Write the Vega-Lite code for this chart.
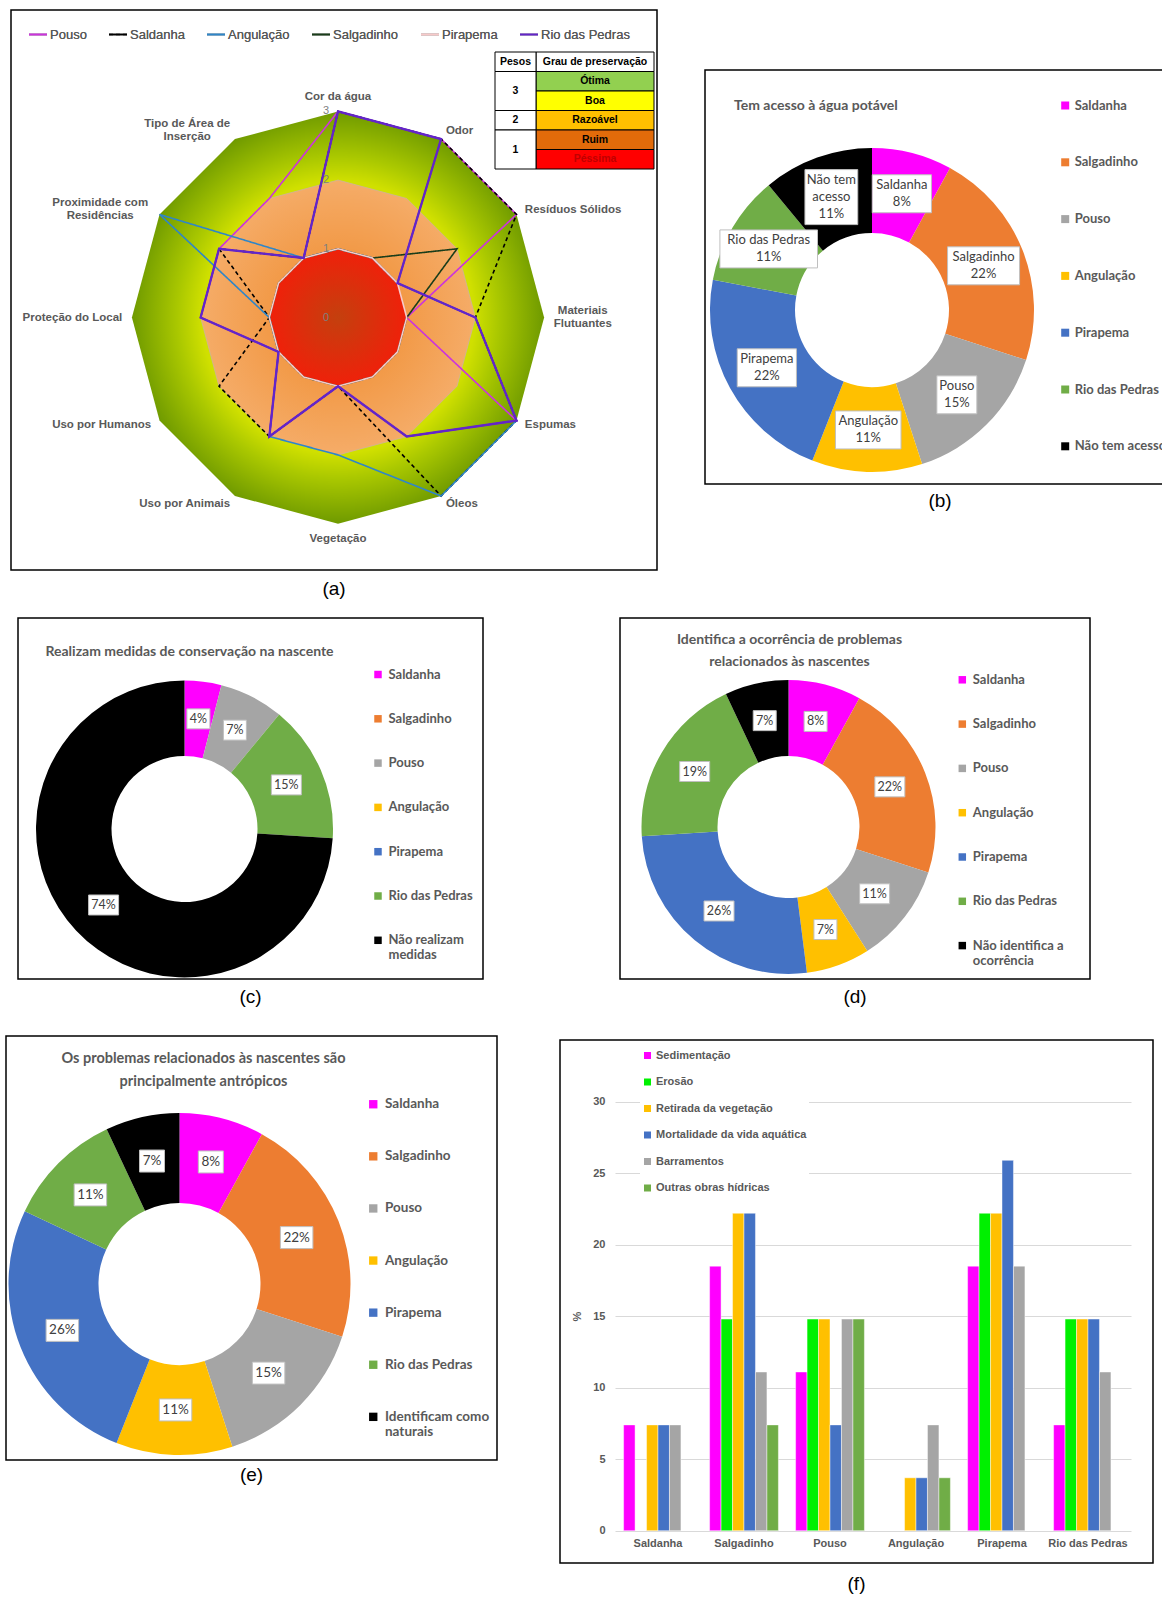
{
"$schema": "https://vega.github.io/schema/vega-lite/v6.json",
"padding": 0,
"background": "white",
"config": {"view": {"stroke": "black", "strokeWidth": 1.5}, "title": {"font": "Liberation Sans", "fontSize": 19, "fontWeight": "normal", "color": "black"}, "text": {"font": "Liberation Sans"}},
"datasets": {
"empty": [],
"radar": [
{"s":"Pouso","k":0,"v":3},{"s":"Pouso","k":1,"v":3},{"s":"Pouso","k":2,"v":3},{"s":"Pouso","k":3,"v":1},{"s":"Pouso","k":4,"v":3},{"s":"Pouso","k":5,"v":2},{"s":"Pouso","k":6,"v":1},{"s":"Pouso","k":7,"v":2},{"s":"Pouso","k":8,"v":1},{"s":"Pouso","k":9,"v":2},{"s":"Pouso","k":10,"v":2},{"s":"Pouso","k":11,"v":2},
{"s":"Saldanha","k":0,"v":3},{"s":"Saldanha","k":1,"v":3},{"s":"Saldanha","k":2,"v":3},{"s":"Saldanha","k":3,"v":2},{"s":"Saldanha","k":4,"v":3},{"s":"Saldanha","k":5,"v":3},{"s":"Saldanha","k":6,"v":1},{"s":"Saldanha","k":7,"v":2},{"s":"Saldanha","k":8,"v":2},{"s":"Saldanha","k":9,"v":1},{"s":"Saldanha","k":10,"v":2},{"s":"Saldanha","k":11,"v":1},
{"s":"Angulação","k":0,"v":1},{"s":"Angulação","k":1,"v":1},{"s":"Angulação","k":2,"v":1},{"s":"Angulação","k":3,"v":2},{"s":"Angulação","k":4,"v":3},{"s":"Angulação","k":5,"v":3},{"s":"Angulação","k":6,"v":2},{"s":"Angulação","k":7,"v":2},{"s":"Angulação","k":8,"v":1},{"s":"Angulação","k":9,"v":1},{"s":"Angulação","k":10,"v":3},{"s":"Angulação","k":11,"v":1},
{"s":"Salgadinho","k":0,"v":1},{"s":"Salgadinho","k":1,"v":1},{"s":"Salgadinho","k":2,"v":2},{"s":"Salgadinho","k":3,"v":1},{"s":"Salgadinho","k":4,"v":1},{"s":"Salgadinho","k":5,"v":1},{"s":"Salgadinho","k":6,"v":1},{"s":"Salgadinho","k":7,"v":1},{"s":"Salgadinho","k":8,"v":1},{"s":"Salgadinho","k":9,"v":1},{"s":"Salgadinho","k":10,"v":1},{"s":"Salgadinho","k":11,"v":1},
{"s":"Pirapema","k":0,"v":1},{"s":"Pirapema","k":1,"v":1},{"s":"Pirapema","k":2,"v":1},{"s":"Pirapema","k":3,"v":1},{"s":"Pirapema","k":4,"v":1},{"s":"Pirapema","k":5,"v":1},{"s":"Pirapema","k":6,"v":1},{"s":"Pirapema","k":7,"v":1},{"s":"Pirapema","k":8,"v":1},{"s":"Pirapema","k":9,"v":1},{"s":"Pirapema","k":10,"v":1},{"s":"Pirapema","k":11,"v":1},
{"s":"Rio das Pedras","k":0,"v":3},{"s":"Rio das Pedras","k":1,"v":3},{"s":"Rio das Pedras","k":2,"v":1},{"s":"Rio das Pedras","k":3,"v":2},{"s":"Rio das Pedras","k":4,"v":3},{"s":"Rio das Pedras","k":5,"v":2},{"s":"Rio das Pedras","k":6,"v":1},{"s":"Rio das Pedras","k":7,"v":2},{"s":"Rio das Pedras","k":8,"v":1},{"s":"Rio das Pedras","k":9,"v":2},{"s":"Rio das Pedras","k":10,"v":2},{"s":"Rio das Pedras","k":11,"v":1}
],
"grid": [
{"lvl":1,"k":0},{"lvl":1,"k":1},{"lvl":1,"k":2},{"lvl":1,"k":3},{"lvl":1,"k":4},{"lvl":1,"k":5},{"lvl":1,"k":6},{"lvl":1,"k":7},{"lvl":1,"k":8},{"lvl":1,"k":9},{"lvl":1,"k":10},{"lvl":1,"k":11},
{"lvl":2,"k":0},{"lvl":2,"k":1},{"lvl":2,"k":2},{"lvl":2,"k":3},{"lvl":2,"k":4},{"lvl":2,"k":5},{"lvl":2,"k":6},{"lvl":2,"k":7},{"lvl":2,"k":8},{"lvl":2,"k":9},{"lvl":2,"k":10},{"lvl":2,"k":11},
{"lvl":3,"k":0},{"lvl":3,"k":1},{"lvl":3,"k":2},{"lvl":3,"k":3},{"lvl":3,"k":4},{"lvl":3,"k":5},{"lvl":3,"k":6},{"lvl":3,"k":7},{"lvl":3,"k":8},{"lvl":3,"k":9},{"lvl":3,"k":10},{"lvl":3,"k":11}
],
"axes": [
{"k":0,"name":"Cor da água"},{"k":1,"name":"Odor"},{"k":2,"name":"Resíduos Sólidos"},{"k":3,"name":"Materiais\nFlutuantes"},{"k":4,"name":"Espumas"},{"k":5,"name":"Óleos"},{"k":6,"name":"Vegetação"},{"k":7,"name":"Uso por Animais"},{"k":8,"name":"Uso por Humanos"},{"k":9,"name":"Proteção do Local"},{"k":10,"name":"Proximidade com\nResidências"},{"k":11,"name":"Tipo de Área de\nInserção"}
],
"ticks": [{"t":0},{"t":1},{"t":2},{"t":3}],
"table": [
{"i":0,"peso":"Pesos","grau":"Grau de preservação"},{"i":1,"peso":"3","grau":"Ótima"},{"i":2,"peso":"3","grau":"Boa"},{"i":3,"peso":"2","grau":"Razoável"},{"i":4,"peso":"1","grau":"Ruim"},{"i":5,"peso":"1","grau":"Péssima"}
],
"b": [
{"i":1,"cat":"Saldanha","v":8,"lab":"Saldanha\n8%"},{"i":2,"cat":"Salgadinho","v":22,"lab":"Salgadinho\n22%"},{"i":3,"cat":"Pouso","v":15,"lab":"Pouso\n15%"},{"i":4,"cat":"Angulação","v":11,"lab":"Angulação\n11%"},{"i":5,"cat":"Pirapema","v":22,"lab":"Pirapema\n22%"},{"i":6,"cat":"Rio das Pedras","v":11,"lab":"Rio das Pedras\n11%"},{"i":7,"cat":"Não tem acesso","v":11,"lab":"Não tem\nacesso\n11%"}
],
"c": [
{"i":1,"cat":"Saldanha","v":4,"lab":"4%"},{"i":2,"cat":"Salgadinho","v":0,"lab":"0%"},{"i":3,"cat":"Pouso","v":7,"lab":"7%"},{"i":4,"cat":"Angulação","v":0,"lab":"0%"},{"i":5,"cat":"Pirapema","v":0,"lab":"0%"},{"i":6,"cat":"Rio das Pedras","v":15,"lab":"15%"},{"i":7,"cat":"Não realizam medidas","v":74,"lab":"74%"}
],
"d": [
{"i":1,"cat":"Saldanha","v":8,"lab":"8%"},{"i":2,"cat":"Salgadinho","v":22,"lab":"22%"},{"i":3,"cat":"Pouso","v":11,"lab":"11%"},{"i":4,"cat":"Angulação","v":7,"lab":"7%"},{"i":5,"cat":"Pirapema","v":26,"lab":"26%"},{"i":6,"cat":"Rio das Pedras","v":19,"lab":"19%"},{"i":7,"cat":"Não identifica a ocorrência","v":7,"lab":"7%"}
],
"e": [
{"i":1,"cat":"Saldanha","v":8,"lab":"8%"},{"i":2,"cat":"Salgadinho","v":22,"lab":"22%"},{"i":3,"cat":"Pouso","v":15,"lab":"15%"},{"i":4,"cat":"Angulação","v":11,"lab":"11%"},{"i":5,"cat":"Pirapema","v":26,"lab":"26%"},{"i":6,"cat":"Rio das Pedras","v":11,"lab":"11%"},{"i":7,"cat":"Identificam como naturais","v":7,"lab":"7%"}
],
"f": [
{"loc":"Saldanha","tipo":"Sedimentação","v":7.4},{"loc":"Saldanha","tipo":"Retirada da vegetação","v":7.4},{"loc":"Saldanha","tipo":"Mortalidade da vida aquática","v":7.4},{"loc":"Saldanha","tipo":"Barramentos","v":7.4},
{"loc":"Salgadinho","tipo":"Sedimentação","v":18.5},{"loc":"Salgadinho","tipo":"Erosão","v":14.8},{"loc":"Salgadinho","tipo":"Retirada da vegetação","v":22.2},{"loc":"Salgadinho","tipo":"Mortalidade da vida aquática","v":22.2},{"loc":"Salgadinho","tipo":"Barramentos","v":11.1},{"loc":"Salgadinho","tipo":"Outras obras hídricas","v":7.4},
{"loc":"Pouso","tipo":"Sedimentação","v":11.1},{"loc":"Pouso","tipo":"Erosão","v":14.8},{"loc":"Pouso","tipo":"Retirada da vegetação","v":14.8},{"loc":"Pouso","tipo":"Mortalidade da vida aquática","v":7.4},{"loc":"Pouso","tipo":"Barramentos","v":14.8},{"loc":"Pouso","tipo":"Outras obras hídricas","v":14.8},
{"loc":"Angulação","tipo":"Retirada da vegetação","v":3.7},{"loc":"Angulação","tipo":"Mortalidade da vida aquática","v":3.7},{"loc":"Angulação","tipo":"Barramentos","v":7.4},{"loc":"Angulação","tipo":"Outras obras hídricas","v":3.7},
{"loc":"Pirapema","tipo":"Sedimentação","v":18.5},{"loc":"Pirapema","tipo":"Erosão","v":22.2},{"loc":"Pirapema","tipo":"Retirada da vegetação","v":22.2},{"loc":"Pirapema","tipo":"Mortalidade da vida aquática","v":25.9},{"loc":"Pirapema","tipo":"Barramentos","v":18.5},
{"loc":"Rio das Pedras","tipo":"Sedimentação","v":7.4},{"loc":"Rio das Pedras","tipo":"Erosão","v":14.8},{"loc":"Rio das Pedras","tipo":"Retirada da vegetação","v":14.8},{"loc":"Rio das Pedras","tipo":"Mortalidade da vida aquática","v":14.8},{"loc":"Rio das Pedras","tipo":"Barramentos","v":11.1}
]
},
"spacing": 0,
"bounds": "full",
"resolve": {"scale": {"x": "independent", "y": "independent", "color": "independent", "strokeDash": "independent", "theta": "independent"}, "legend": {"color": "independent", "strokeDash": "independent"}},
"vconcat": [
{"hconcat": [
 {"width": 9.25, "height": 1, "view": {"stroke": null}, "data": {"name": "empty"}, "mark": "point", "encoding": {}},
 {"vconcat": [
  {"width": 1, "height": 10, "view": {"stroke": null}, "data": {"name": "empty"}, "mark": "point", "encoding": {}},
  {"width": 646, "height": 560,
   "title": {"text": "(a)", "orient": "bottom", "offset": 10.15, "anchor": "middle"},
   "resolve": {"scale": {"x": "independent", "y": "independent", "color": "independent"}},
   "layer": [
    {"layer": [
     {"data": {"name": "grid"}, "transform": [{"filter": "datum.lvl == 3"}, {"calculate": "datum.lvl*sin(datum.k*PI/6)", "as": "x"}, {"calculate": "datum.lvl*cos(datum.k*PI/6)", "as": "y"}],
      "mark": {"type": "line", "interpolate": "linear-closed", "stroke": "transparent", "fill": {"gradient": "radial", "x1": 0.5, "y1": 0.5, "r1": 0, "x2": 0.5, "y2": 0.5, "r2": 0.5, "stops": [{"offset": 0, "color": "#dfe600"}, {"offset": 0.66, "color": "#d0e000"}, {"offset": 0.78, "color": "#aac800"}, {"offset": 1, "color": "#6f9a00"}]}},
      "encoding": {"x": {"field": "x", "type": "quantitative", "scale": {"domain": [-4.76, 4.643], "nice": false, "zero": false}, "axis": null}, "y": {"field": "y", "type": "quantitative", "scale": {"domain": [-3.675, 4.476], "nice": false, "zero": false}, "axis": null}, "order": {"field": "k", "type": "quantitative"}}},
     {"data": {"name": "grid"}, "transform": [{"filter": "datum.lvl == 2"}, {"calculate": "datum.lvl*sin(datum.k*PI/6)", "as": "x"}, {"calculate": "datum.lvl*cos(datum.k*PI/6)", "as": "y"}],
      "mark": {"type": "line", "interpolate": "linear-closed", "stroke": "#cdb49b", "strokeWidth": 0.8, "fill": {"gradient": "radial", "x1": 0.5, "y1": 0.5, "r1": 0, "x2": 0.5, "y2": 0.5, "r2": 0.5, "stops": [{"offset": 0, "color": "#f29a48"}, {"offset": 0.5, "color": "#f29a48"}, {"offset": 1, "color": "#f5ac68"}]}},
      "encoding": {"x": {"field": "x", "type": "quantitative", "scale": {"domain": [-4.76, 4.643], "nice": false, "zero": false}, "axis": null}, "y": {"field": "y", "type": "quantitative", "scale": {"domain": [-3.675, 4.476], "nice": false, "zero": false}, "axis": null}, "order": {"field": "k", "type": "quantitative"}}},
     {"data": {"name": "grid"}, "transform": [{"filter": "datum.lvl == 1"}, {"calculate": "datum.lvl*sin(datum.k*PI/6)", "as": "x"}, {"calculate": "datum.lvl*cos(datum.k*PI/6)", "as": "y"}],
      "mark": {"type": "line", "interpolate": "linear-closed", "stroke": "transparent", "fill": {"gradient": "radial", "x1": 0.5, "y1": 0.5, "r1": 0, "x2": 0.5, "y2": 0.5, "r2": 0.5, "stops": [{"offset": 0, "color": "#c4400e"}, {"offset": 1, "color": "#f0200a"}]}},
      "encoding": {"x": {"field": "x", "type": "quantitative", "scale": {"domain": [-4.76, 4.643], "nice": false, "zero": false}, "axis": null}, "y": {"field": "y", "type": "quantitative", "scale": {"domain": [-3.675, 4.476], "nice": false, "zero": false}, "axis": null}, "order": {"field": "k", "type": "quantitative"}}},
     {"data": {"name": "radar"}, "transform": [{"calculate": "datum.v*sin(datum.k*PI/6)", "as": "x"}, {"calculate": "datum.v*cos(datum.k*PI/6)", "as": "y"}],
      "mark": {"type": "line", "interpolate": "linear-closed", "strokeWidth": 1.6},
      "encoding": {"x": {"field": "x", "type": "quantitative", "scale": {"domain": [-4.76, 4.643], "nice": false, "zero": false}, "axis": null}, "y": {"field": "y", "type": "quantitative", "scale": {"domain": [-3.675, 4.476], "nice": false, "zero": false}, "axis": null}, "order": {"field": "k", "type": "quantitative"},
       "color": {"field": "s", "type": "nominal", "scale": {"domain": ["Pouso","Saldanha","Angulação","Salgadinho","Pirapema","Rio das Pedras"], "range": ["#cc33dd","#000000","#2f86c8","#1a3d1a","#f7c9c9","#6325c8"]},
        "legend": {"orient": "none", "legendX": 17, "legendY": 14.5, "direction": "horizontal", "title": null, "symbolType": "stroke", "symbolSize": 324, "symbolStrokeWidth": 2, "labelFont": "Liberation Sans", "labelFontSize": 13, "labelColor": "#595959", "columnPadding": 18, "labelOffset": 2, "padding": 0}},
       "strokeDash": {"field": "s", "type": "nominal", "scale": {"domain": ["Pouso","Saldanha","Angulação","Salgadinho","Pirapema","Rio das Pedras"], "range": [[1,0],[4,3],[1,0],[1,0],[1,0],[1,0]]},
        "legend": {"orient": "none", "legendX": 17, "legendY": 14.5, "direction": "horizontal", "title": null, "symbolType": "stroke", "symbolSize": 324, "symbolStrokeWidth": 2, "labelFont": "Liberation Sans", "labelFontSize": 13, "labelColor": "#595959", "columnPadding": 18, "labelOffset": 2, "padding": 0}}}},
     {"data": {"name": "radar"}, "transform": [{"filter": "datum.s == 'Rio das Pedras'"}, {"calculate": "datum.v*sin(datum.k*PI/6)", "as": "x"}, {"calculate": "datum.v*cos(datum.k*PI/6)", "as": "y"}],
      "mark": {"type": "line", "interpolate": "linear-closed", "strokeWidth": 2.3, "stroke": "#6325c8"},
      "encoding": {"x": {"field": "x", "type": "quantitative", "scale": {"domain": [-4.76, 4.643], "nice": false, "zero": false}, "axis": null}, "y": {"field": "y", "type": "quantitative", "scale": {"domain": [-3.675, 4.476], "nice": false, "zero": false}, "axis": null}, "order": {"field": "k", "type": "quantitative"}}},
     {"data": {"name": "ticks"},
      "mark": {"type": "text", "align": "right", "baseline": "middle", "dx": -9, "fontSize": 11, "fill": "#7f7f7f"},
      "encoding": {"x": {"datum": 0, "type": "quantitative", "scale": {"domain": [-4.76, 4.643], "nice": false, "zero": false}, "axis": null}, "y": {"field": "t", "type": "quantitative", "scale": {"domain": [-3.675, 4.476], "nice": false, "zero": false}, "axis": null}, "text": {"field": "t", "type": "quantitative"}}},
     {"data": {"name": "axes"}, "transform": [{"filter": "datum.k == 0"}, {"calculate": "3.14*sin(datum.k*PI/6)", "as": "x"}, {"calculate": "3.14*cos(datum.k*PI/6)", "as": "y"}],
      "mark": {"type": "text", "align": "center", "baseline": "bottom", "fontSize": 11.5, "fontWeight": "bold", "fill": "#595959", "lineBreak": "\n", "lineHeight": 13},
      "encoding": {"x": {"field": "x", "type": "quantitative", "scale": {"domain": [-4.76, 4.643], "nice": false, "zero": false}, "axis": null}, "y": {"field": "y", "type": "quantitative", "scale": {"domain": [-3.675, 4.476], "nice": false, "zero": false}, "axis": null}, "text": {"field": "name"}}},
     {"data": {"name": "axes"}, "transform": [{"filter": "datum.k >= 1 && datum.k <= 5 && datum.k != 3"}, {"calculate": "3.14*sin(datum.k*PI/6)", "as": "x"}, {"calculate": "3.14*cos(datum.k*PI/6)", "as": "y"}],
      "mark": {"type": "text", "align": "left", "baseline": "middle", "fontSize": 11.5, "fontWeight": "bold", "fill": "#595959", "lineBreak": "\n", "lineHeight": 13},
      "encoding": {"x": {"field": "x", "type": "quantitative", "scale": {"domain": [-4.76, 4.643], "nice": false, "zero": false}, "axis": null}, "y": {"field": "y", "type": "quantitative", "scale": {"domain": [-3.675, 4.476], "nice": false, "zero": false}, "axis": null}, "text": {"field": "name"}}},
     {"data": {"name": "axes"}, "transform": [{"filter": "datum.k == 3"}, {"calculate": "3.14*sin(datum.k*PI/6)", "as": "x"}, {"calculate": "3.14*cos(datum.k*PI/6)", "as": "y"}],
      "mark": {"type": "text", "align": "center", "baseline": "middle", "dx": 29, "dy": -6.5, "fontSize": 11.5, "fontWeight": "bold", "fill": "#595959", "lineBreak": "\n", "lineHeight": 13},
      "encoding": {"x": {"field": "x", "type": "quantitative", "scale": {"domain": [-4.76, 4.643], "nice": false, "zero": false}, "axis": null}, "y": {"field": "y", "type": "quantitative", "scale": {"domain": [-3.675, 4.476], "nice": false, "zero": false}, "axis": null}, "text": {"field": "name"}}},
     {"data": {"name": "axes"}, "transform": [{"filter": "datum.k == 6"}, {"calculate": "3.14*sin(datum.k*PI/6)", "as": "x"}, {"calculate": "3.14*cos(datum.k*PI/6)", "as": "y"}],
      "mark": {"type": "text", "align": "center", "baseline": "top", "fontSize": 11.5, "fontWeight": "bold", "fill": "#595959", "lineBreak": "\n", "lineHeight": 13},
      "encoding": {"x": {"field": "x", "type": "quantitative", "scale": {"domain": [-4.76, 4.643], "nice": false, "zero": false}, "axis": null}, "y": {"field": "y", "type": "quantitative", "scale": {"domain": [-3.675, 4.476], "nice": false, "zero": false}, "axis": null}, "text": {"field": "name"}}},
     {"data": {"name": "axes"}, "transform": [{"filter": "datum.k >= 7 && datum.k <= 9"}, {"calculate": "3.14*sin(datum.k*PI/6)", "as": "x"}, {"calculate": "3.14*cos(datum.k*PI/6)", "as": "y"}],
      "mark": {"type": "text", "align": "right", "baseline": "middle", "fontSize": 11.5, "fontWeight": "bold", "fill": "#595959", "lineBreak": "\n", "lineHeight": 13},
      "encoding": {"x": {"field": "x", "type": "quantitative", "scale": {"domain": [-4.76, 4.643], "nice": false, "zero": false}, "axis": null}, "y": {"field": "y", "type": "quantitative", "scale": {"domain": [-3.675, 4.476], "nice": false, "zero": false}, "axis": null}, "text": {"field": "name"}}},
     {"data": {"name": "axes"}, "transform": [{"filter": "datum.k == 10"}, {"calculate": "3.14*sin(datum.k*PI/6)", "as": "x"}, {"calculate": "3.14*cos(datum.k*PI/6)", "as": "y"}],
      "mark": {"type": "text", "align": "center", "baseline": "middle", "dx": -51, "dy": -6.5, "fontSize": 11.5, "fontWeight": "bold", "fill": "#595959", "lineBreak": "\n", "lineHeight": 13},
      "encoding": {"x": {"field": "x", "type": "quantitative", "scale": {"domain": [-4.76, 4.643], "nice": false, "zero": false}, "axis": null}, "y": {"field": "y", "type": "quantitative", "scale": {"domain": [-3.675, 4.476], "nice": false, "zero": false}, "axis": null}, "text": {"field": "name"}}},
     {"data": {"name": "axes"}, "transform": [{"filter": "datum.k == 11"}, {"calculate": "3.14*sin(datum.k*PI/6)", "as": "x"}, {"calculate": "3.14*cos(datum.k*PI/6)", "as": "y"}],
      "mark": {"type": "text", "align": "center", "baseline": "middle", "dx": -43, "dy": -6.5, "fontSize": 11.5, "fontWeight": "bold", "fill": "#595959", "lineBreak": "\n", "lineHeight": 13},
      "encoding": {"x": {"field": "x", "type": "quantitative", "scale": {"domain": [-4.76, 4.643], "nice": false, "zero": false}, "axis": null}, "y": {"field": "y", "type": "quantitative", "scale": {"domain": [-3.675, 4.476], "nice": false, "zero": false}, "axis": null}, "text": {"field": "name"}}}
    ]},
    {"layer": [
     {"data": {"name": "table"}, "transform": [{"calculate": "datum.i", "as": "y0"}, {"calculate": "datum.i + 1", "as": "y1"}],
      "mark": {"type": "rect", "stroke": "black", "strokeWidth": 1},
      "encoding": {"x": {"value": 525}, "x2": {"value": 643}, "y": {"field": "y0", "type": "quantitative", "scale": {"domain": [0, 6], "range": [42, 159], "nice": false, "zero": false}, "axis": null}, "y2": {"field": "y1"},
       "color": {"field": "grau", "type": "nominal", "scale": {"domain": ["Grau de preservação","Ótima","Boa","Razoável","Ruim","Péssima"], "range": ["#ffffff","#92d050","#ffff00","#ffc000","#e26b0a","#ff0000"]}, "legend": null}}},
     {"data": {"name": "table"}, "transform": [{"calculate": "datum.i + 0.5", "as": "ym"}],
      "mark": {"type": "text", "fontSize": 10.5, "fontWeight": "bold", "align": "center", "baseline": "middle"},
      "encoding": {"x": {"value": 584}, "y": {"field": "ym", "type": "quantitative", "scale": {"domain": [0, 6], "range": [42, 159], "nice": false, "zero": false}, "axis": null}, "text": {"field": "grau"},
       "color": {"condition": {"test": "datum.grau == 'Péssima'", "value": "#c00000"}, "value": "black"}}},
     {"data": {"name": "table"}, "transform": [{"aggregate": [{"op": "min", "field": "i", "as": "a"}, {"op": "max", "field": "i", "as": "b"}], "groupby": ["peso"]}, {"calculate": "datum.a", "as": "y0"}, {"calculate": "datum.b + 1", "as": "y1"}],
      "mark": {"type": "rect", "fill": "white", "stroke": "black", "strokeWidth": 1},
      "encoding": {"x": {"value": 484}, "x2": {"value": 525}, "y": {"field": "y0", "type": "quantitative", "scale": {"domain": [0, 6], "range": [42, 159], "nice": false, "zero": false}, "axis": null}, "y2": {"field": "y1"}}},
     {"data": {"name": "table"}, "transform": [{"aggregate": [{"op": "min", "field": "i", "as": "a"}, {"op": "max", "field": "i", "as": "b"}], "groupby": ["peso"]}, {"calculate": "(datum.a + datum.b + 1)/2", "as": "ym"}],
      "mark": {"type": "text", "fontSize": 10.5, "fontWeight": "bold", "align": "center", "baseline": "middle", "fill": "black"},
      "encoding": {"x": {"value": 504.5}, "y": {"field": "ym", "type": "quantitative", "scale": {"domain": [0, 6], "range": [42, 159], "nice": false, "zero": false}, "axis": null}, "text": {"field": "peso"}}}
    ]}
   ]}
 ], "spacing": 0, "bounds": "flush", "resolve": {"scale": {"x": "independent", "y": "independent", "color": "independent", "strokeDash": "independent", "theta": "independent"}, "legend": {"color": "independent", "strokeDash": "independent"}}},
 {"width": 45.5, "height": 1, "view": {"stroke": null}, "data": {"name": "empty"}, "mark": "point", "encoding": {}},
 {"vconcat": [
  {"width": 1, "height": 69.5, "view": {"stroke": null}, "data": {"name": "empty"}, "mark": "point", "encoding": {}},
  {"width": 470, "height": 414,
   "title": {"text": "Tem acesso à água potável", "orient": "top", "anchor": "start", "frame": "group", "dx": 29, "offset": -42.5, "font": "Lato", "fontSize": 14, "fontWeight": "bold", "color": "#595959"},
   "data": {"name": "b"},
   "transform": [
    {"joinaggregate": [{"op": "sum", "field": "v", "as": "tot"}]},
    {"window": [{"op": "sum", "field": "v", "as": "cum"}], "sort": [{"field": "i", "order": "ascending"}], "frame": [null, 0]},
    {"calculate": "2*PI*(datum.cum - datum.v/2)/datum.tot", "as": "ang"},
    {"calculate": "120*sin(datum.ang)", "as": "lx"},
    {"calculate": "120*cos(datum.ang)", "as": "ly"},
    {"calculate": "split(datum.lab, '\\n')", "as": "ln"},
    {"calculate": "datum.ly + 8.5*(length(datum.ln) - 1)", "as": "ty"},
    {"calculate": "6.4*length(datum.ln[0]) + 8", "as": "bw"},
    {"calculate": "17*length(datum.ln) + 4", "as": "bh"},
    {"calculate": "datum.lx - datum.bw/2", "as": "bx1"},
    {"calculate": "datum.lx + datum.bw/2", "as": "bx2"},
    {"calculate": "datum.ly - datum.bh/2", "as": "by1"},
    {"calculate": "datum.ly + datum.bh/2", "as": "by2"}
   ],
   "layer": [
    {"mark": {"type": "arc", "radius": 162, "radius2": 77},
     "encoding": {"theta": {"field": "v", "type": "quantitative", "stack": true}, "order": {"field": "i", "type": "quantitative"},
      "x": {"datum": 0, "type": "quantitative", "scale": {"domain": [-167, 303], "nice": false, "zero": false}, "axis": null},
      "y": {"datum": 0, "type": "quantitative", "scale": {"domain": [-174, 240], "nice": false, "zero": false}, "axis": null},
      "color": {"field": "cat", "type": "nominal", "scale": {"domain": ["Saldanha","Salgadinho","Pouso","Angulação","Pirapema","Rio das Pedras","Não tem acesso"], "range": ["#ff00ff","#ed7d31","#a5a5a5","#ffc000","#4472c4","#70ad47","#000000"]},
       "legend": {"orient": "none", "legendX": 353.7, "legendY": 29, "title": null, "symbolType": "square", "symbolSize": 64, "symbolStrokeWidth": 0, "labelFont": "Lato", "labelFontWeight": "bold", "labelFontSize": 13, "labelColor": "#595959", "rowPadding": 42.8, "labelOffset": 3, "padding": 0, "labelLimit": 300}}}},
    {"transform": [{"filter": "datum.v > 0"}], "mark": {"type": "rect", "fill": "white", "stroke": "#bfbfbf", "strokeWidth": 1},
     "encoding": {"x": {"field": "bx1", "type": "quantitative", "scale": {"domain": [-167, 303], "nice": false, "zero": false}, "axis": null}, "x2": {"field": "bx2"},
      "y": {"field": "by1", "type": "quantitative", "scale": {"domain": [-174, 240], "nice": false, "zero": false}, "axis": null}, "y2": {"field": "by2"}}},
    {"transform": [{"filter": "datum.v > 0"}], "mark": {"type": "text", "font": "Lato", "fontSize": 13, "fill": "#404040", "lineBreak": "\n", "lineHeight": 17, "align": "center", "baseline": "middle"},
     "encoding": {"x": {"field": "lx", "type": "quantitative", "scale": {"domain": [-167, 303], "nice": false, "zero": false}, "axis": null},
      "y": {"field": "ty", "type": "quantitative", "scale": {"domain": [-174, 240], "nice": false, "zero": false}, "axis": null}, "text": {"field": "lab"}}}
   ]}
 ], "spacing": 0, "bounds": "flush", "title": {"text": "(b)", "orient": "bottom", "offset": 7.25, "anchor": "middle"}, "resolve": {"scale": {"x": "independent", "y": "independent", "color": "independent", "strokeDash": "independent", "theta": "independent"}, "legend": {"color": "independent", "strokeDash": "independent"}}}
], "spacing": 0, "bounds": "full", "resolve": {"scale": {"x": "independent", "y": "independent", "color": "independent", "strokeDash": "independent", "theta": "independent"}, "legend": {"color": "independent", "strokeDash": "independent"}}},
{"width": 1, "height": 17, "view": {"stroke": null}, "data": {"name": "empty"}, "mark": "point", "encoding": {}},
{"hconcat": [
 {"width": 16.75, "height": 1, "view": {"stroke": null}, "data": {"name": "empty"}, "mark": "point", "encoding": {}},
 {"vconcat": [
  {"width": 465, "height": 361,
   "title": {"text": "Realizam medidas de conservação na nascente", "orient": "top", "anchor": "start", "frame": "group", "dx": 27.5, "offset": -40.5, "font": "Lato", "fontSize": 14, "fontWeight": "bold", "color": "#595959"},
   "data": {"name": "c"},
   "transform": [
    {"joinaggregate": [{"op": "sum", "field": "v", "as": "tot"}]},
    {"window": [{"op": "sum", "field": "v", "as": "cum"}], "sort": [{"field": "i", "order": "ascending"}], "frame": [null, 0]},
    {"calculate": "2*PI*(datum.cum - datum.v/2)/datum.tot", "as": "ang"},
    {"calculate": "111*sin(datum.ang)", "as": "lx"},
    {"calculate": "111*cos(datum.ang)", "as": "ly"},
    {"calculate": "split(datum.lab, '\\n')", "as": "ln"},
    {"calculate": "7*length(datum.ln[0]) + 9", "as": "bw"},
    {"calculate": "15*length(datum.ln) + 5", "as": "bh"},
    {"calculate": "datum.lx - datum.bw/2", "as": "bx1"},
    {"calculate": "datum.lx + datum.bw/2", "as": "bx2"},
    {"calculate": "datum.ly - datum.bh/2", "as": "by1"},
    {"calculate": "datum.ly + datum.bh/2", "as": "by2"}
   ],
   "layer": [
    {"mark": {"type": "arc", "radius": 148.5, "radius2": 73},
     "encoding": {"theta": {"field": "v", "type": "quantitative", "stack": true}, "order": {"field": "i", "type": "quantitative"},
      "x": {"datum": 0, "type": "quantitative", "scale": {"domain": [-166.5, 298.5], "nice": false, "zero": false}, "axis": null},
      "y": {"datum": 0, "type": "quantitative", "scale": {"domain": [-150, 211], "nice": false, "zero": false}, "axis": null},
      "color": {"field": "cat", "type": "nominal", "scale": {"domain": ["Saldanha","Salgadinho","Pouso","Angulação","Pirapema","Rio das Pedras","Não realizam medidas"], "range": ["#ff00ff","#ed7d31","#a5a5a5","#ffc000","#4472c4","#70ad47","#000000"]},
       "legend": {"orient": "none", "legendX": 353.5, "legendY": 50, "title": null, "symbolType": "square", "symbolSize": 56, "symbolStrokeWidth": 0, "labelFont": "Lato", "labelFontWeight": "bold", "labelFontSize": 13, "labelColor": "#595959", "rowPadding": 30.3, "labelOffset": 4, "padding": 0, "labelLimit": 300,
        "labelExpr": "datum.label == 'Não realizam medidas' ? ['Não realizam', 'medidas'] : datum.label"}}}},
    {"transform": [{"filter": "datum.v > 0"}], "mark": {"type": "rect", "fill": "white", "stroke": "#bfbfbf", "strokeWidth": 1},
     "encoding": {"x": {"field": "bx1", "type": "quantitative", "scale": {"domain": [-166.5, 298.5], "nice": false, "zero": false}, "axis": null}, "x2": {"field": "bx2"},
      "y": {"field": "by1", "type": "quantitative", "scale": {"domain": [-150, 211], "nice": false, "zero": false}, "axis": null}, "y2": {"field": "by2"}}},
    {"transform": [{"filter": "datum.v > 0"}], "mark": {"type": "text", "font": "Lato", "fontSize": 12.5, "fill": "#404040", "lineBreak": "\n", "lineHeight": 15, "align": "center", "baseline": "middle"},
     "encoding": {"x": {"field": "lx", "type": "quantitative", "scale": {"domain": [-166.5, 298.5], "nice": false, "zero": false}, "axis": null},
      "y": {"field": "ly", "type": "quantitative", "scale": {"domain": [-150, 211], "nice": false, "zero": false}, "axis": null}, "text": {"field": "lab"}}}
   ]}
 ], "spacing": 0, "bounds": "flush", "title": {"text": "(c)", "orient": "bottom", "offset": 8.25, "anchor": "middle"}, "resolve": {"scale": {"x": "independent", "y": "independent", "color": "independent", "strokeDash": "independent", "theta": "independent"}, "legend": {"color": "independent", "strokeDash": "independent"}}},
 {"width": 134.5, "height": 1, "view": {"stroke": null}, "data": {"name": "empty"}, "mark": "point", "encoding": {}},
 {"vconcat": [
  {"width": 470, "height": 361,
   "title": {"text": ["Identifica a ocorrência de problemas", "relacionados às nascentes"], "orient": "top", "anchor": "middle", "frame": "group", "dx": -65.5, "offset": -50.5, "font": "Lato", "fontSize": 14, "fontWeight": "bold", "color": "#595959", "lineHeight": 22},
   "data": {"name": "d"},
   "transform": [
    {"joinaggregate": [{"op": "sum", "field": "v", "as": "tot"}]},
    {"window": [{"op": "sum", "field": "v", "as": "cum"}], "sort": [{"field": "i", "order": "ascending"}], "frame": [null, 0]},
    {"calculate": "2*PI*(datum.cum - datum.v/2)/datum.tot", "as": "ang"},
    {"calculate": "109*sin(datum.ang)", "as": "lx"},
    {"calculate": "109*cos(datum.ang)", "as": "ly"},
    {"calculate": "split(datum.lab, '\\n')", "as": "ln"},
    {"calculate": "7*length(datum.ln[0]) + 9", "as": "bw"},
    {"calculate": "15*length(datum.ln) + 5", "as": "bh"},
    {"calculate": "datum.lx - datum.bw/2", "as": "bx1"},
    {"calculate": "datum.lx + datum.bw/2", "as": "bx2"},
    {"calculate": "datum.ly - datum.bh/2", "as": "by1"},
    {"calculate": "datum.ly + datum.bh/2", "as": "by2"}
   ],
   "layer": [
    {"mark": {"type": "arc", "radius": 147, "radius2": 71},
     "encoding": {"theta": {"field": "v", "type": "quantitative", "stack": true}, "order": {"field": "i", "type": "quantitative"},
      "x": {"datum": 0, "type": "quantitative", "scale": {"domain": [-168.5, 301.5], "nice": false, "zero": false}, "axis": null},
      "y": {"datum": 0, "type": "quantitative", "scale": {"domain": [-152, 209], "nice": false, "zero": false}, "axis": null},
      "color": {"field": "cat", "type": "nominal", "scale": {"domain": ["Saldanha","Salgadinho","Pouso","Angulação","Pirapema","Rio das Pedras","Não identifica a ocorrência"], "range": ["#ff00ff","#ed7d31","#a5a5a5","#ffc000","#4472c4","#70ad47","#000000"]},
       "legend": {"orient": "none", "legendX": 335.8, "legendY": 55.3, "title": null, "symbolType": "square", "symbolSize": 56, "symbolStrokeWidth": 0, "labelFont": "Lato", "labelFontWeight": "bold", "labelFontSize": 13, "labelColor": "#595959", "rowPadding": 30.3, "labelOffset": 4, "padding": 0, "labelLimit": 300,
        "labelExpr": "datum.label == 'Não identifica a ocorrência' ? ['Não identifica a', 'ocorrência'] : datum.label"}}}},
    {"transform": [{"filter": "datum.v > 0"}], "mark": {"type": "rect", "fill": "white", "stroke": "#bfbfbf", "strokeWidth": 1},
     "encoding": {"x": {"field": "bx1", "type": "quantitative", "scale": {"domain": [-168.5, 301.5], "nice": false, "zero": false}, "axis": null}, "x2": {"field": "bx2"},
      "y": {"field": "by1", "type": "quantitative", "scale": {"domain": [-152, 209], "nice": false, "zero": false}, "axis": null}, "y2": {"field": "by2"}}},
    {"transform": [{"filter": "datum.v > 0"}], "mark": {"type": "text", "font": "Lato", "fontSize": 12.5, "fill": "#404040", "lineBreak": "\n", "lineHeight": 15, "align": "center", "baseline": "middle"},
     "encoding": {"x": {"field": "lx", "type": "quantitative", "scale": {"domain": [-168.5, 301.5], "nice": false, "zero": false}, "axis": null},
      "y": {"field": "ly", "type": "quantitative", "scale": {"domain": [-152, 209], "nice": false, "zero": false}, "axis": null}, "text": {"field": "lab"}}}
   ]}
 ], "spacing": 0, "bounds": "flush", "title": {"text": "(d)", "orient": "bottom", "offset": 8.25, "anchor": "middle"}, "resolve": {"scale": {"x": "independent", "y": "independent", "color": "independent", "strokeDash": "independent", "theta": "independent"}, "legend": {"color": "independent", "strokeDash": "independent"}}}
], "spacing": 0, "bounds": "full", "resolve": {"scale": {"x": "independent", "y": "independent", "color": "independent", "strokeDash": "independent", "theta": "independent"}, "legend": {"color": "independent", "strokeDash": "independent"}}},
{"width": 1, "height": 28, "view": {"stroke": null}, "data": {"name": "empty"}, "mark": "point", "encoding": {}},
{"hconcat": [
 {"width": 4.75, "height": 1, "view": {"stroke": null}, "data": {"name": "empty"}, "mark": "point", "encoding": {}},
 {"vconcat": [
  {"width": 491, "height": 424,
   "title": {"text": ["Os problemas relacionados às nascentes são", "principalmente antrópicos"], "orient": "top", "anchor": "middle", "frame": "group", "dx": -48, "offset": -53, "font": "Lato", "fontSize": 14.5, "fontWeight": "bold", "color": "#595959", "lineHeight": 22.5},
   "data": {"name": "e"},
   "transform": [
    {"joinaggregate": [{"op": "sum", "field": "v", "as": "tot"}]},
    {"window": [{"op": "sum", "field": "v", "as": "cum"}], "sort": [{"field": "i", "order": "ascending"}], "frame": [null, 0]},
    {"calculate": "2*PI*(datum.cum - datum.v/2)/datum.tot", "as": "ang"},
    {"calculate": "126*sin(datum.ang)", "as": "lx"},
    {"calculate": "126*cos(datum.ang)", "as": "ly"},
    {"calculate": "split(datum.lab, '\\n')", "as": "ln"},
    {"calculate": "7.5*length(datum.ln[0]) + 10", "as": "bw"},
    {"calculate": "16*length(datum.ln) + 6", "as": "bh"},
    {"calculate": "datum.lx - datum.bw/2", "as": "bx1"},
    {"calculate": "datum.lx + datum.bw/2", "as": "bx2"},
    {"calculate": "datum.ly - datum.bh/2", "as": "by1"},
    {"calculate": "datum.ly + datum.bh/2", "as": "by2"}
   ],
   "layer": [
    {"mark": {"type": "arc", "radius": 171, "radius2": 81},
     "encoding": {"theta": {"field": "v", "type": "quantitative", "stack": true}, "order": {"field": "i", "type": "quantitative"},
      "x": {"datum": 0, "type": "quantitative", "scale": {"domain": [-173.5, 317.5], "nice": false, "zero": false}, "axis": null},
      "y": {"datum": 0, "type": "quantitative", "scale": {"domain": [-176, 248], "nice": false, "zero": false}, "axis": null},
      "color": {"field": "cat", "type": "nominal", "scale": {"domain": ["Saldanha","Salgadinho","Pouso","Angulação","Pirapema","Rio das Pedras","Identificam como naturais"], "range": ["#ff00ff","#ed7d31","#a5a5a5","#ffc000","#4472c4","#70ad47","#000000"]},
       "legend": {"orient": "none", "legendX": 360.5, "legendY": 61.5, "title": null, "symbolType": "square", "symbolSize": 70, "symbolStrokeWidth": 0, "labelFont": "Lato", "labelFontWeight": "bold", "labelFontSize": 13.5, "labelColor": "#595959", "rowPadding": 37.1, "labelOffset": 5, "padding": 0, "labelLimit": 300,
        "labelExpr": "datum.label == 'Identificam como naturais' ? ['Identificam como', 'naturais'] : datum.label"}}}},
    {"transform": [{"filter": "datum.v > 0"}], "mark": {"type": "rect", "fill": "white", "stroke": "#bfbfbf", "strokeWidth": 1},
     "encoding": {"x": {"field": "bx1", "type": "quantitative", "scale": {"domain": [-173.5, 317.5], "nice": false, "zero": false}, "axis": null}, "x2": {"field": "bx2"},
      "y": {"field": "by1", "type": "quantitative", "scale": {"domain": [-176, 248], "nice": false, "zero": false}, "axis": null}, "y2": {"field": "by2"}}},
    {"transform": [{"filter": "datum.v > 0"}], "mark": {"type": "text", "font": "Lato", "fontSize": 13.5, "fill": "#404040", "lineBreak": "\n", "lineHeight": 16, "align": "center", "baseline": "middle"},
     "encoding": {"x": {"field": "lx", "type": "quantitative", "scale": {"domain": [-173.5, 317.5], "nice": false, "zero": false}, "axis": null},
      "y": {"field": "ly", "type": "quantitative", "scale": {"domain": [-176, 248], "nice": false, "zero": false}, "axis": null}, "text": {"field": "lab"}}}
   ]}
 ], "spacing": 0, "bounds": "flush", "title": {"text": "(e)", "orient": "bottom", "offset": 4.75, "anchor": "middle"}, "resolve": {"scale": {"x": "independent", "y": "independent", "color": "independent", "strokeDash": "independent", "theta": "independent"}, "legend": {"color": "independent", "strokeDash": "independent"}}},
 {"width": 61, "height": 1, "view": {"stroke": null}, "data": {"name": "empty"}, "mark": "point", "encoding": {}},
 {"vconcat": [
  {"width": 1, "height": 3.75, "view": {"stroke": null}, "data": {"name": "empty"}, "mark": "point", "encoding": {}},
  {"width": 593, "height": 523,
   "title": {"text": "(f)", "orient": "bottom", "offset": 11.75, "anchor": "middle"},
   "data": {"name": "f"},
   "mark": {"type": "bar", "stroke": "white", "strokeOpacity": 0.45, "strokeWidth": 1},
   "encoding": {
    "x": {"field": "loc", "type": "nominal", "scale": {"domain": ["Saldanha","Salgadinho","Pouso","Angulação","Pirapema","Rio das Pedras"], "range": [55, 571], "paddingInner": 0.2, "paddingOuter": 0.1},
     "axis": {"orient": "bottom", "offset": -32.3, "title": null, "labelAngle": 0, "domain": false, "ticks": false, "grid": false, "labelPadding": 7, "labelFont": "Liberation Sans", "labelFontSize": 11, "labelFontWeight": "bold", "labelColor": "#595959"}},
    "xOffset": {"field": "tipo", "type": "nominal", "scale": {"domain": ["Sedimentação","Erosão","Retirada da vegetação","Mortalidade da vida aquática","Barramentos","Outras obras hídricas"], "paddingInner": 0, "paddingOuter": 0}},
    "y": {"field": "v", "type": "quantitative", "scale": {"domain": [0, 30], "range": [490.7, 61.7], "nice": false},
     "axis": {"offset": -55, "values": [0, 5, 10, 15, 20, 25, 30], "title": "%", "titleFont": "Liberation Sans", "titleFontSize": 11, "titleFontWeight": "bold", "titleColor": "#595959", "titlePadding": 10, "labelFont": "Liberation Sans", "labelFontSize": 11, "labelFontWeight": "bold", "labelColor": "#595959", "labelPadding": 10, "domain": false, "ticks": false, "grid": true, "gridColor": "#d9d9d9", "gridWidth": 1}},
    "color": {"field": "tipo", "type": "nominal", "scale": {"domain": ["Sedimentação","Erosão","Retirada da vegetação","Mortalidade da vida aquática","Barramentos","Outras obras hídricas"], "range": ["#ff00ff","#00f000","#ffc000","#4472c4","#a5a5a5","#70ad47"]},
     "legend": {"orient": "none", "legendX": 80, "legendY": 8, "title": null, "symbolType": "square", "symbolSize": 49, "symbolStrokeWidth": 0, "labelFont": "Liberation Sans", "labelFontSize": 11, "labelFontWeight": "bold", "labelColor": "#595959", "rowPadding": 14.5, "labelOffset": 3, "padding": 2, "fillColor": "white"}}
   }}
 ], "spacing": 0, "bounds": "flush", "resolve": {"scale": {"x": "independent", "y": "independent", "color": "independent", "strokeDash": "independent", "theta": "independent"}, "legend": {"color": "independent", "strokeDash": "independent"}}}
], "spacing": 0, "bounds": "full", "resolve": {"scale": {"x": "independent", "y": "independent", "color": "independent", "strokeDash": "independent", "theta": "independent"}, "legend": {"color": "independent", "strokeDash": "independent"}}}
]
}
